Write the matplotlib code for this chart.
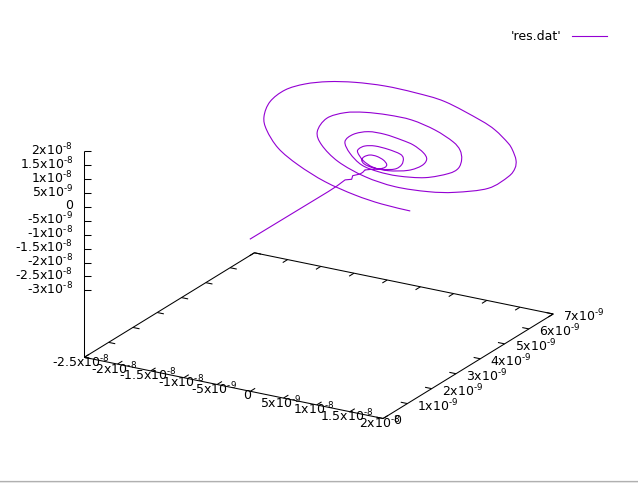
import matplotlib
matplotlib.use("Agg")
import matplotlib.pyplot as plt
from matplotlib.path import Path
from matplotlib.patches import PathPatch
import numpy as np

# res.dat: x and z in units of 1e-8, y in units of 1e-9
x_e8 = [0.0, 0.0, 0.0, 0.0, 0.063, 0.06, 0.152, 0.175, 0.197, 0.288, 0.383, 0.455, 0.462, 0.393, 0.276, 0.156,
        0.051, -0.006, 0.015, 0.108, 0.241, 0.423, 0.505, 0.511, 0.443, 0.248, 0.03, -0.139, -0.247, -0.286,
        -0.22, -0.087, 0.123, 0.411, 0.598, 0.658, 0.593, 0.428, 0.238, -0.029, -0.294, -0.535, -0.675, -0.614,
        -0.452, -0.217, 0.069, 0.458, 0.794, 0.937, 0.98, 0.947, 0.834, 0.553, 0.191, -0.172, -0.535, -0.846, -1.133,
        -1.286, -1.23, -0.991, -0.599, -0.16, 0.331, 0.723, 1.212, 1.503, 1.596, 1.604, 1.544, 1.47, 1.267, 1.033, 0.495,
        0.032, -0.431, -0.893, -1.307, -1.669, -1.98, -2.217, -2.319, -2.286, -2.117, -1.821, -1.422, -0.974,
        -0.575, -0.149]
y_e9 = [0.0, 3.21, 3.56, 3.9, 4.0, 4.05, 4.1, 4.15, 4.18, 4.21, 4.25, 4.3, 4.35, 4.4, 4.45, 4.5,
        4.55, 4.6, 4.65, 4.7, 4.75, 4.8, 4.85, 4.9, 4.95, 5.0, 5.05, 5.1, 5.15, 5.2,
        5.25, 5.3, 5.34, 5.38, 5.42, 5.46, 5.5, 5.54, 5.58, 5.62, 5.66, 5.7, 5.74, 5.78,
        5.82, 5.86, 5.9, 5.94, 5.98, 6.0, 6.02, 6.04, 6.06, 6.09, 6.12, 6.15, 6.18, 6.21, 6.24,
        6.27, 6.3, 6.33, 6.36, 6.39, 6.42, 6.45, 6.48, 6.51, 6.53, 6.55, 6.57, 6.59, 6.61, 6.63, 6.66,
        6.69, 6.72, 6.75, 6.78, 6.81, 6.84, 6.87, 6.9, 6.92, 6.94, 6.95, 6.96, 6.97,
        6.98, 6.99]
z_e8 = [0.07, 0.05, 0.06, 0.1, 0.099, 0.2, 0.279, 0.323, 0.402, 0.455, 0.491, 0.56, 0.644, 0.74, 0.787, 0.749,
        0.611, 0.437, 0.276, 0.175, 0.141, 0.215, 0.385, 0.588, 0.684, 0.73, 0.716, 0.607, 0.431, 0.253,
        -0.041, -0.242, -0.282, -0.15, 0.088, 0.324, 0.51, 0.684, 0.749, 0.801, 0.746, 0.51, 0.156, -0.255,
        -0.617, -0.763, -0.8, -0.691, -0.402, -0.153, 0.182, 0.489, 0.722, 0.989, 1.156, 1.142, 1.044, 0.863, 0.504,
        -0.067, -0.536, -1.035, -1.398, -1.559, -1.515, -1.363, -0.996, -0.451, -0.114, 0.177, 0.497, 0.701, 1.059, 1.294, 1.674,
        1.755, 1.752, 1.642, 1.448, 1.17, 0.786, 0.234, -0.372, -0.846, -1.433, -1.893, -2.303, -2.569,
        -2.703, -2.751]

# tick values, same units
x_ticks = [-2.5, -2.0, -1.5, -1.0, -0.5, 0.0, 0.5, 1.0, 1.5, 2.0]
x_labels = ["-2.5", "-2", "-1.5", "-1", "-5", "0", "5", "1", "1.5", "2"]
x_exps = ["-8", "-8", "-8", "-8", "-9", "", "-9", "-8", "-8", "-8"]
y_ticks = [0, 1, 2, 3, 4, 5, 6, 7]
z_ticks = [2.0, 1.5, 1.0, 0.5, 0.0, -0.5, -1.0, -1.5, -2.0, -2.5, -3.0]
z_labels = ["2", "1.5", "1", "5", "0", "-5", "-1", "-1.5", "-2", "-2.5", "-3"]
z_exps = ["-8", "-8", "-8", "-9", "", "-9", "-8", "-8", "-8", "-8", "-8"]

xmin, xmax = -2.5, 2.0
ymin, ymax = 0, 7
zbase = -5.41  # z of the base plane


# gnuplot "set view 60,30" on this terminal, gives picture pixels
def project(x, y, z):
    x, y, z = np.asarray(x), np.asarray(y), np.asarray(z)
    sx = 250.3 + 66.4 * x + 24.3 * y
    sy = 240.9 + 13.6 * x - 14.93 * y - 27.8 * z
    return sx, sy


def sci(mant, exp):
    if exp == "":
        return mant
    return r"$\mathregular{\text{" + mant + r"x10}^{\text{" + exp + "}}}$"


# smooth path through the points (Catmull-Rom as bezier segments)
def smooth_path(px, py):
    p = np.column_stack([px, py])
    verts = [p[0]]
    codes = [Path.MOVETO]
    for i in range(len(p) - 1):
        a = p[max(i - 1, 0)]
        b = p[min(i + 2, len(p) - 1)]
        verts += [p[i] + (p[i + 1] - a) / 6, p[i + 1] - (b - p[i]) / 6, p[i + 1]]
        codes += [Path.CURVE4, Path.CURVE4, Path.CURVE4]
    return Path(verts, codes)


fig = plt.figure(figsize=(6.38, 4.83), dpi=100)
ax = fig.add_axes([0, 0, 1, 1])
ax.set_xlim(0, 638)
ax.set_ylim(483, 0)
ax.axis("off")

k = dict(color="black", lw=0.75, solid_capstyle="butt")

# base frame
fx = [xmin, xmax, xmax, xmin, xmin]
fy = [ymin, ymin, ymax, ymax, ymin]
sx, sy = project(fx, fy, [zbase] * 5)
ax.plot(sx, sy, **k)

# z axis
sx, sy = project([xmin, xmin], [0, 0], [2.0, zbase])
ax.plot(sx, sy, **k)
for v, m, e in zip(z_ticks, z_labels, z_exps):
    sx, sy = project(xmin, 0, v)
    ax.plot([sx, sx + 6.5], [sy, sy], **k)
    ax.text(73, sy - 1.5, sci(m, e), ha="right", va="center", fontsize=9)

# x ticks on both edges, y ticks on both edges
for v, m, e in zip(x_ticks, x_labels, x_exps):
    sx, sy = project([v, v], [ymin, ymin + 0.2], [zbase, zbase])
    ax.plot(sx, sy, **k)
    sx2, sy2 = project([v, v], [ymax, ymax - 0.2], [zbase, zbase])
    ax.plot(sx2, sy2, **k)
    ax.text(sx[0] - 3, sy[0] + 4.5, sci(m, e), ha="center", va="center", fontsize=9)
for v in y_ticks:
    sx, sy = project([xmax, xmax - 0.1], [v, v], [zbase, zbase])
    ax.plot(sx, sy, **k)
    sx2, sy2 = project([xmin, xmin + 0.1], [v, v], [zbase, zbase])
    ax.plot(sx2, sy2, **k)
    lab = "0" if v == 0 else sci(str(v), "-9")
    ax.text(sx[0] + 10, sy[0] + 2.5, lab, ha="left", va="center", fontsize=9)

# data: straight start and wiggle as read, the spiral as a smooth curve
sx, sy = project(np.array(x_e8), np.array(y_e9), np.array(z_e8))
color = "#9400d3"
ax.plot(sx[:9], sy[:9], color=color, lw=0.8, solid_joinstyle="round")
ax.add_patch(PathPatch(smooth_path(sx[8:], sy[8:]), fill=False, edgecolor=color, lw=0.8))

# key
ax.text(561, 36, "'res.dat'", ha="right", va="center", fontsize=9)
ax.plot([572, 607], [36, 36], color=color, lw=0.8)

# window edge at the bottom of the screenshot
ax.axhspan(480.5, 483, color="#ececec", lw=0)
ax.axhline(480.5, color="#b0b0b0", lw=0.9)

fig.savefig("out.png", dpi=100)
